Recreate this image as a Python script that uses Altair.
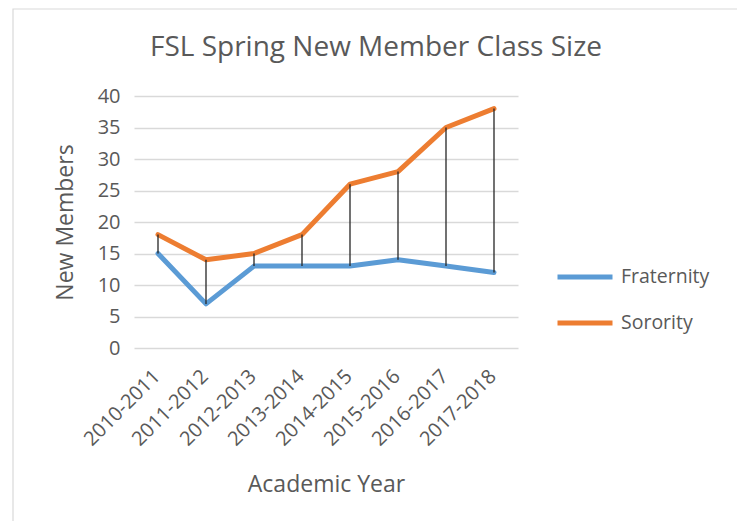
import altair as alt
import pandas as pd

years = ["2010-2011", "2011-2012", "2012-2013", "2013-2014",
         "2014-2015", "2015-2016", "2016-2017", "2017-2018"]
fraternity = [15, 7, 13, 13, 13, 14, 13, 12]
sorority = [18, 14, 15, 18, 26, 28, 35, 38]
series = ["Fraternity", "Sorority"]
colors = ["#5B9BD5", "#ED7D31"]
title_text = "FSL Spring New Member Class Size"

long_df = pd.DataFrame(
    [{"Year": y, "Group": "Fraternity", "Members": v} for y, v in zip(years, fraternity)]
    + [{"Year": y, "Group": "Sorority", "Members": v} for y, v in zip(years, sorority)]
)
wide_df = pd.DataFrame({"Year": years, "Fraternity": fraternity, "Sorority": sorority})

FONT = "Open Sans"
TXT = "#595959"

x_scale = alt.Scale(paddingInner=0, paddingOuter=0, align=0.5)
x_axis = alt.Axis(
    title="Academic Year", labelAngle=-45, labelAlign="right", labelBaseline="middle",
    labelPadding=25, labelOffset=-1, domain=False, ticks=False, grid=False,
    labelFont=FONT, labelFontSize=20, labelColor=TXT,
    titleFont=FONT, titleFontSize=23, titleColor=TXT, titleFontWeight="normal",
    titleY=136, titleBaseline="middle",
)

y_scale = alt.Scale(domain=[0, 40], nice=False)
y_axis = alt.Axis(
    title="New Members", values=list(range(0, 41, 5)), labelOverlap=False,
    domain=False, ticks=False,
    grid=True, gridColor="#D9D9D9", gridWidth=1.3,
    labelFont=FONT, labelFontSize=20, labelColor=TXT, labelPadding=14,
    titleFont=FONT, titleFontSize=23, titleColor=TXT, titleFontWeight="normal",
    titleX=-69, titleY=126, titleAngle=-90, titleAlign="center", titleBaseline="middle",
)

lines = alt.Chart(long_df).mark_line(strokeWidth=5, strokeCap="round", strokeJoin="round").encode(
    x=alt.X("Year:N", sort=years, scale=x_scale, axis=x_axis),
    y=alt.Y("Members:Q", scale=y_scale, axis=y_axis),
    color=alt.Color(
        "Group:N", scale=alt.Scale(domain=series, range=colors),
        legend=alt.Legend(
            title=None, orient="none", legendX=421, legendY=171, padding=0,
            symbolType="stroke", symbolSize=3025, symbolStrokeWidth=5, clipHeight=20,
            rowPadding=26, labelOffset=6, labelFont=FONT, labelFontSize=19.5, labelColor=TXT,
        ),
    ),
)

drops = alt.Chart(wide_df).mark_rule(color="#262626", strokeWidth=1.3).encode(
    x=alt.X("Year:N", sort=years, scale=x_scale, axis=x_axis),
    y=alt.Y("Fraternity:Q", scale=y_scale, axis=y_axis),
    y2="Sorority:Q",
)

border = alt.Chart(pd.DataFrame({"a": [0]})).mark_rect(
    fill=None, stroke="#D9D9D9", strokeWidth=1.2
).encode(x=alt.value(-121), x2=alt.value(605), y=alt.value(-87), y2=alt.value(440))

title = alt.Chart(pd.DataFrame({"t": [title_text]})).mark_text(
    font=FONT, fontSize=28, color=TXT, align="center", baseline="alphabetic"
).encode(text="t:N", x=alt.value(242), y=alt.value(-40))

chart = alt.layer(lines, drops, border, title).properties(
    width=384, height=252,
    padding={"left": 126, "top": 88, "right": 219, "bottom": 173},
    autosize=alt.AutoSizeParams(type="none"),
).configure(background="white", view=alt.ViewConfig(stroke=None))

chart.save("out.html", embed_options={"renderer": "svg", "actions": False})
